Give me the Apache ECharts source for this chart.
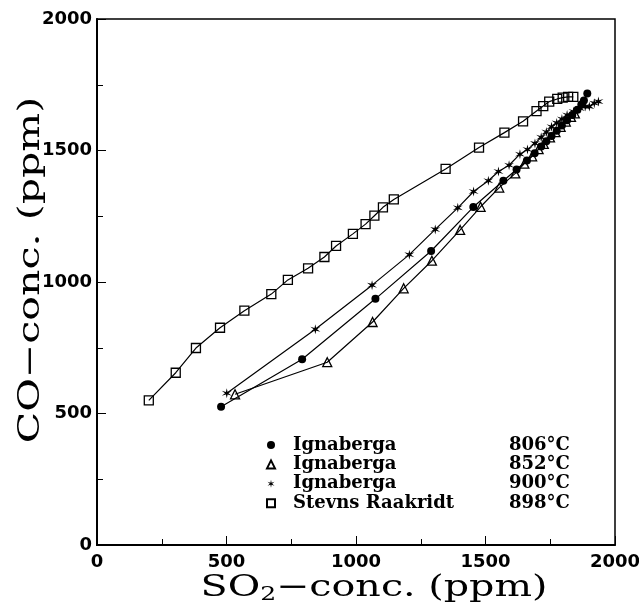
<!DOCTYPE html>
<html>
<head>
<meta charset="utf-8">
<script src="https://cdn.jsdelivr.net/npm/echarts@6/dist/echarts.min.js"></script>
<style>html,body{margin:0;padding:0;background:#fff;}#c{width:639px;height:609px;}</style>
</head>
<body>
<div id="c"></div>
<script>
// Ignaberga 806°C (filled circles)
const ign806_so2 = [479, 792, 1075, 1290, 1453, 1569, 1620, 1660, 1690, 1715, 1735, 1755, 1775, 1795, 1815, 1835, 1855, 1870, 1880, 1893];
const ign806_co  = [526, 706,  936, 1118, 1285, 1385, 1428, 1462, 1490, 1515, 1535, 1555, 1575, 1595, 1615, 1635, 1655, 1675, 1690, 1717];
// Ignaberga 852°C (open triangles)
const ign852_so2 = [533, 889, 1064, 1184, 1293, 1402, 1481, 1553, 1615, 1650, 1680, 1705, 1725, 1749, 1770, 1790, 1810, 1830, 1845];
const ign852_co  = [573, 695,  848,  976, 1081, 1198, 1286, 1359, 1413, 1450, 1478, 1505, 1525, 1550, 1570, 1590, 1610, 1628, 1641];
// Ignaberga 900°C (stars)
const ign900_so2 = [501, 843, 1062, 1206, 1306, 1393, 1454, 1511, 1550, 1591, 1633, 1662, 1691, 1715, 1735, 1755, 1775, 1795, 1815, 1840, 1865, 1885, 1901, 1920, 1936];
const ign900_co  = [577, 820,  988, 1104, 1200, 1282, 1344, 1385, 1420, 1444, 1486, 1504, 1527, 1550, 1570, 1590, 1605, 1620, 1635, 1648, 1660, 1667, 1667, 1680, 1686];
// Stevns Raakridt 898°C (open squares)
const stevns_so2 = [200, 304, 382, 475, 569, 673, 737, 815, 878, 923, 988, 1037, 1071, 1104, 1146, 1346, 1475, 1573, 1645, 1697, 1723, 1746, 1777, 1798, 1819, 1839];
const stevns_co  = [550, 655, 749, 826, 891, 954, 1008, 1052, 1095, 1137, 1183, 1220, 1252, 1284, 1314, 1430, 1511, 1568, 1611, 1650, 1669, 1686, 1696, 1701, 1704, 1704];

const seriesNames = ['Ignaberga 806°C', 'Ignaberga 852°C', 'Ignaberga 900°C', 'Stevns Raakridt 898°C'];
const xTicks = [0, 500, 1000, 1500, 2000];
const yTicks = [0, 500, 1000, 1500, 2000];
const xTitle = 'SO{s|2}−conc. (ppm)';
const yTitle = 'CO−conc. (ppm)';

const starPath = 'path://M10 0 L11.5 7.4 L18.66 5 L13 10 L18.66 15 L11.5 12.6 L10 20 L8.5 12.6 L1.34 15 L7 10 L1.34 5 L8.5 7.4 Z';
const zip = (a, b) => a.map((v, i) => [v, b[i]]);

const chart = echarts.init(document.getElementById('c'), null, {renderer: 'canvas'});
const lineStyle = {color: '#000', width: 1.2};
const tickFont = {fontFamily: 'DejaVu Sans', fontWeight: 'bold', fontSize: 18, color: '#000'};
const legendFont = {fontFamily: 'DejaVu Serif', fontWeight: 'bold', fontSize: 18, color: '#000', lineHeight: 16};

chart.setOption({
  animation: false,
  backgroundColor: '#fff',
  grid: {left: 97, right: 24, top: 19, bottom: 64, show: true, borderColor: '#000', borderWidth: 1.5,
    containLabel: false, outerBoundsMode: 'none'},
  legend: {
    orient: 'vertical', left: 261, top: 431, itemWidth: 8, itemHeight: 8, itemGap: 1.4,
    data: [
      {name: seriesNames[0], icon: 'circle'},
      {name: seriesNames[1], icon: 'triangle'},
      {name: seriesNames[2], icon: starPath},
      {name: seriesNames[3], icon: 'rect'}
    ],
    formatter: function (n) {
      const i = n.lastIndexOf(' ');
      return '{a|' + n.slice(0, i) + '}{b|' + n.slice(i + 1) + '}';
    },
    textStyle: {
      rich: {
        a: {...legendFont, width: 216, padding: [0, 0, 0, 13]},
        b: {...legendFont}
      }
    }
  },
  graphic: [
    {type: 'text', x: 374, y: 588, scaleX: 1.32, silent: true,
      style: {text: xTitle, fontFamily: 'DejaVu Serif', fontSize: 30, fill: '#000', align: 'center', verticalAlign: 'middle',
        rich: {s: {fontFamily: 'DejaVu Serif', fontSize: 19, fill: '#000', padding: [14, 0, 0, 0]}}}},
    {type: 'text', x: 31, y: 270, rotation: Math.PI / 2, scaleX: 1.37, silent: true,
      style: {text: yTitle, fontFamily: 'DejaVu Serif', fontSize: 30, fill: '#000', align: 'center', verticalAlign: 'middle'}}
  ],
  xAxis: {
    type: 'value', min: 0, max: 2000, interval: 500,
    axisLine: {lineStyle: {color: '#000', width: 2}},
    axisTick: {inside: true, length: 9, lineStyle: {color: '#000', width: 1}},
    minorTick: {show: true, splitNumber: 2, length: 6, lineStyle: {color: '#000', width: 1}},
    splitLine: {show: false},
    axisLabel: {...tickFont, margin: 8, formatter: v => xTicks.includes(v) ? String(v) : ''}
  },
  yAxis: {
    type: 'value', min: 0, max: 2000, interval: 500,
    axisLine: {lineStyle: {color: '#000', width: 2}},
    axisTick: {inside: true, length: 9, lineStyle: {color: '#000', width: 1}},
    minorTick: {show: true, splitNumber: 2, length: 6, lineStyle: {color: '#000', width: 1}},
    splitLine: {show: false},
    axisLabel: {...tickFont, margin: 5, formatter: v => yTicks.includes(v) ? String(v) : ''}
  },
  series: [
    {name: seriesNames[0], type: 'line', data: zip(ign806_so2, ign806_co), symbol: 'circle', symbolSize: 8,
      lineStyle: lineStyle, itemStyle: {color: '#000'}},
    {name: seriesNames[1], type: 'line', data: zip(ign852_so2, ign852_co), symbol: 'triangle', symbolSize: 9,
      lineStyle: lineStyle, itemStyle: {color: 'rgba(255,255,255,0)', borderColor: '#000', borderWidth: 1.3}},
    {name: seriesNames[2], type: 'line', data: zip(ign900_so2, ign900_co), symbol: starPath, symbolSize: 10,
      lineStyle: lineStyle, itemStyle: {color: '#000'}},
    {name: seriesNames[3], type: 'line', data: zip(stevns_so2, stevns_co), symbol: 'rect', symbolSize: 9,
      lineStyle: lineStyle, itemStyle: {color: 'rgba(255,255,255,0)', borderColor: '#000', borderWidth: 1.3}}
  ]
});
</script>
</body>
</html>
